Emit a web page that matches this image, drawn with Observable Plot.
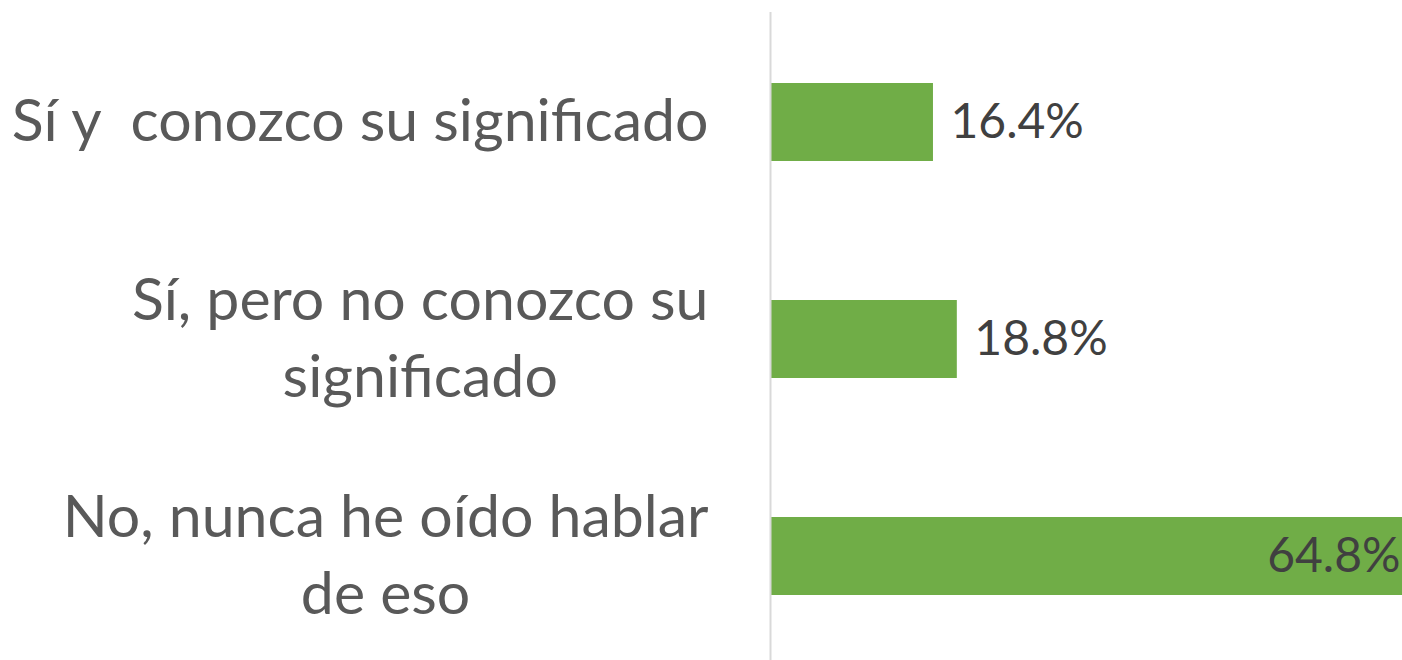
<!DOCTYPE html>
<html>
<head>
<meta charset="utf-8">
<script src="https://cdn.jsdelivr.net/npm/d3@7"></script>
<script src="https://cdn.jsdelivr.net/npm/@observablehq/plot@0.6"></script>
<style>
  html, body { margin: 0; padding: 0; background: #fff; }
  #chart svg { display: block; }
</style>
</head>
<body>
<div id="chart"></div>
<script>
const categories = [
  "Sí y  conozco su significado",
  "Sí, pero no conozco su\nsignificado",
  "No, nunca he oído hablar\nde eso"
];
const values = [16.4, 18.8, 64.8];
const valueLabels = ["16.4%", "18.8%", "64.8%"];

const xMax = 63.6;
const data = categories.map((c, i) => ({category: c, value: values[i], label: valueLabels[i]}));
const outside = data.filter(d => d.value <= xMax);
const inside = data.filter(d => d.value > xMax);

const chart = Plot.plot({
  width: 1402,
  height: 660,
  marginLeft: 770,
  marginRight: 0,
  marginTop: 12,
  marginBottom: 0,
  style: {fontFamily: "Lato, 'Open Sans', sans-serif", background: "#fff"},
  x: {domain: [0, xMax], axis: null},
  y: {domain: categories, range: [15, 663], paddingInner: 0.642, paddingOuter: 0.309, label: null},
  marks: [
    Plot.barX(data, {x: "value", y: "category", fill: "#70ad47", clip: true}),
    Plot.ruleX([0], {stroke: "#d9d9d9", strokeWidth: 2}),
    Plot.axisY({tickSize: 0, tickPadding: 62, fontSize: 59, fill: "#595959", lineHeight: 1.31, dy: -6}),
    Plot.text(outside, {x: "value", y: "category", text: "label", textAnchor: "start", dx: 17, fontSize: 48, fill: "#404040"}),
    Plot.text(inside, {x: () => xMax, y: "category", text: "label", textAnchor: "end", dx: -2, fontSize: 48, fill: "#404040"})
  ]
});
document.getElementById("chart").appendChild(chart);

// Center multi-line category labels within their (right-aligned) block
d3.select(chart).selectAll("g[aria-label='y-axis tick label'] text").each(function () {
  const tspans = this.querySelectorAll("tspan");
  if (tspans.length < 2) return;
  const maxW = d3.max(Array.from(tspans), t => t.getComputedTextLength());
  this.setAttribute("text-anchor", "middle");
  tspans.forEach(t => t.setAttribute("x", -maxW / 2));
});
</script>
</body>
</html>
